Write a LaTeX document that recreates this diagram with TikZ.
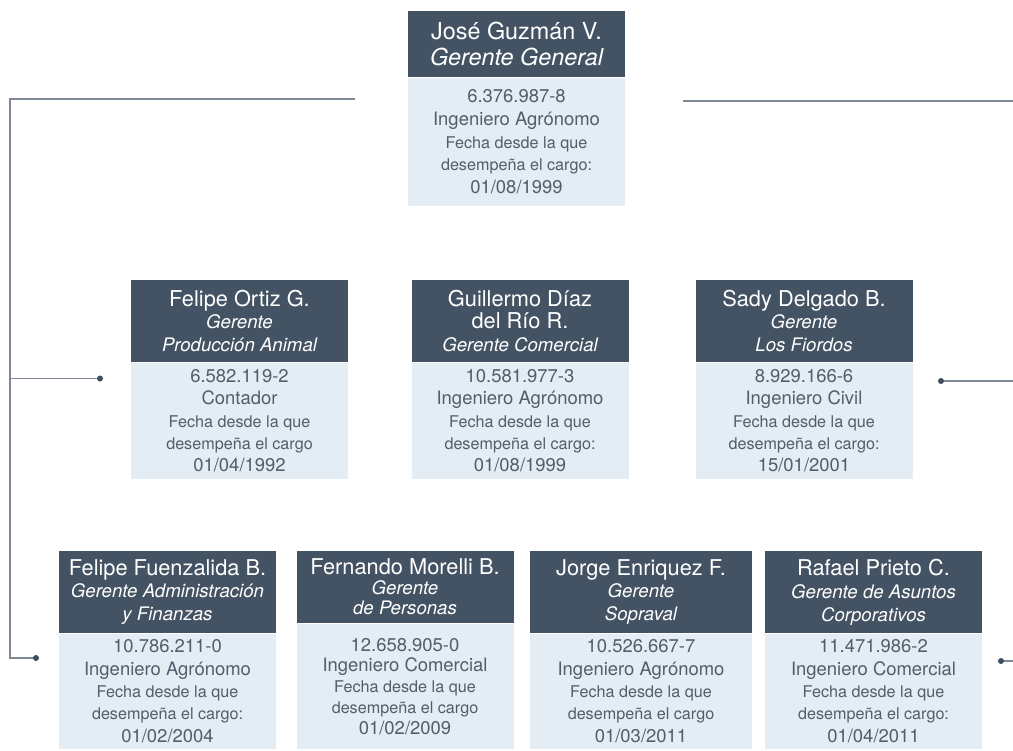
\documentclass[tikz,border=0pt]{standalone}
\usepackage{fontspec}
\setmainfont{TeX Gyre Heros}
\usetikzlibrary{positioning}
\definecolor{cabeza}{RGB}{67,83,99}
\definecolor{fondo}{RGB}{228,236,244}
\definecolor{letra}{RGB}{82,94,108}
\definecolor{gris}{RGB}{125,136,148}
\definecolor{oscuro}{RGB}{61,78,94}
\newcommand{\rol}{\itshape\fontsize{10.6}{13}\selectfont}
\newcommand{\chico}{\fontsize{9.2}{12.7}\selectfont}
\tikzset{
  jefe/.style={rectangle, fill=cabeza, text=white, minimum width=4.34cm, minimum height=1.64cm,
    inner sep=0pt, align=center, font=\fontsize{12.4}{13}\selectfont},
  ficha/.style={rectangle, fill=fondo, text=letra, minimum width=4.34cm, minimum height=2.32cm,
    inner sep=0pt, align=center, font=\fontsize{10.5}{12.7}\selectfont},
  linea/.style={gris, line width=0.7pt},
  punto/.style={oscuro}
}
\begin{document}
\begin{tikzpicture}
\useasboundingbox (0,0) rectangle (20.26,15);
% gerente general
\node[jefe, minimum height=1.32cm, font=\fontsize{13.3}{15}\selectfont] (guzman) at (10.33,14.12) {José Guzmán V.\\{\itshape Gerente General}};
\node[ficha, minimum height=2.56cm, font=\fontsize{10.5}{13}\selectfont, below=0pt of guzman] (guzman-info) {6.376.987-8\\Ingeniero Agrónomo\\{\chico Fecha desde la que}\\{\chico desempeña el cargo:}\\01/08/1999};
% segunda fila
\node[jefe] (ortiz) at (4.79,8.58) {Felipe Ortiz G.\\{\rol Gerente}\\{\rol Producción Animal}};
\node[ficha, below=0pt of ortiz] (ortiz-info) {6.582.119-2\\Contador\\{\chico Fecha desde la que}\\{\chico desempeña el cargo}\\01/04/1992};
\node[jefe] (diaz) at (10.40,8.58) {Guillermo Díaz\\del Río R.\\{\rol Gerente Comercial}};
\node[ficha, below=0pt of diaz] (diaz-info) {10.581.977-3\\Ingeniero Agrónomo\\{\chico Fecha desde la que}\\{\chico desempeña el cargo:}\\01/08/1999};
\node[jefe] (delgado) at (16.08,8.58) {Sady Delgado B.\\{\rol Gerente}\\{\rol Los Fiordos}};
\node[ficha, below=0pt of delgado] (delgado-info) {8.929.166-6\\Ingeniero Civil\\{\chico Fecha desde la que}\\{\chico desempeña el cargo:}\\15/01/2001};
% tercera fila
\node[jefe] (fuenzalida) at (3.35,3.16) {Felipe Fuenzalida B.\\{\rol Gerente Administración}\\{\rol y Finanzas}};
\node[ficha, minimum height=2.3cm, below=0pt of fuenzalida] (fuenzalida-info) {10.786.211-0\\Ingeniero Agrónomo\\{\chico Fecha desde la que}\\{\chico desempeña el cargo:}\\01/02/2004};
\node[jefe, minimum height=1.44cm, font=\fontsize{12.4}{11.3}\selectfont] (morelli) at (8.10,3.26) {Fernando Morelli B.\\{\rol Gerente}\\{\rol de Personas}};
\node[ficha, minimum height=2.5cm, font=\fontsize{10.5}{11.8}\selectfont, below=0pt of morelli] (morelli-info) {12.658.905-0\\Ingeniero Comercial\\{\chico Fecha desde la que}\\{\chico desempeña el cargo}\\01/02/2009};
\node[jefe, minimum width=4.44cm] (enriquez) at (12.82,3.16) {Jorge Enriquez F.\\{\rol Gerente}\\{\rol Sopraval}};
\node[ficha, minimum width=4.44cm, minimum height=2.3cm, below=0pt of enriquez] (enriquez-info) {10.526.667-7\\Ingeniero Agrónomo\\{\chico Fecha desde la que}\\{\chico desempeña el cargo}\\01/03/2011};
\node[jefe] (prieto) at (17.47,3.16) {Rafael Prieto C.\\{\rol Gerente de Asuntos}\\{\rol Corporativos}};
\node[ficha, minimum height=2.3cm, below=0pt of prieto] (prieto-info) {11.471.986-2\\Ingeniero Comercial\\{\chico Fecha desde la que}\\{\chico desempeña el cargo:}\\01/04/2011};
% lineas
\coordinate (izq) at (7.10,13.02);
\coordinate (esquina) at (0.20,13.02);
\coordinate (ramal) at (0.20,7.43);
\coordinate (pie) at (0.20,1.84);
\coordinate (ortiz-punto) at (2.00,7.43);
\coordinate (fuenzalida-punto) at (0.72,1.84);
\coordinate (der) at (13.66,12.98);
\coordinate (borde) at (20.26,12.98);
\coordinate (delgado-punto) at (18.82,7.38);
\coordinate (borde-medio) at (20.26,7.38);
\coordinate (prieto-punto) at (20.02,1.78);
\coordinate (borde-bajo) at (20.26,1.78);
\draw[linea] (izq) -- (esquina) -- (pie) -- (fuenzalida-punto);
\draw[linea] (ramal) -- (ortiz-punto);
\draw[linea] (der) -- (borde);
\draw[linea] (delgado-punto) -- (borde-medio);
\draw[linea] (prieto-punto) -- (borde-bajo);
\fill[punto] (ortiz-punto) circle (0.06);
\fill[punto] (fuenzalida-punto) circle (0.06);
\fill[punto] (delgado-punto) circle (0.06);
\fill[punto] (prieto-punto) circle (0.06);
\end{tikzpicture}
\end{document}
